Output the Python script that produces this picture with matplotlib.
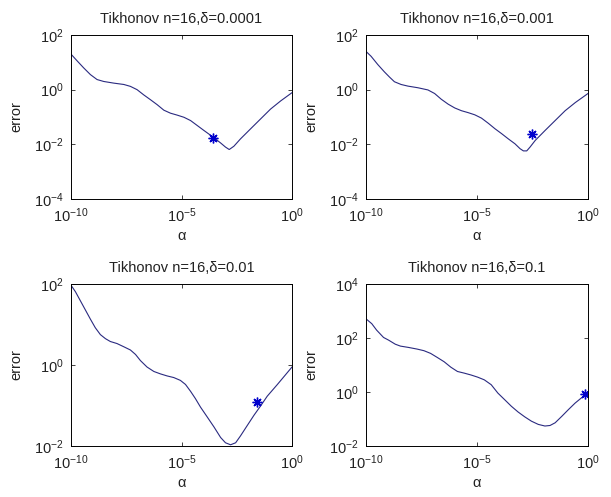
import matplotlib
matplotlib.use("Agg")
import numpy as np
import matplotlib.pyplot as plt
from matplotlib.ticker import FixedLocator, FixedFormatter, NullLocator

plt.rcParams['font.family'] = ['Liberation Sans', 'DejaVu Sans']
plt.rcParams['mathtext.fontset'] = 'custom'
plt.rcParams['mathtext.rm'] = 'Liberation Sans'
plt.rcParams['mathtext.it'] = 'Liberation Sans'

TITLES = [
    "Tikhonov n=16,\u03b4=0.0001",
    "Tikhonov n=16,\u03b4=0.001",
    "Tikhonov n=16,\u03b4=0.01",
    "Tikhonov n=16,\u03b4=0.1",
]

# log10(alpha), log10(error)
logx_1 = [-10, -9.73, -9.43, -9.12, -8.82, -8.52, -8.07, -7.61, -7.31, -7.01, -6.71,
          -6.40, -6.10, -5.80, -5.50, -5.20, -4.89, -4.59, -4.29, -3.99, -3.58,
          -3.23, -3.01, -2.84, -2.63, -2.33, -1.87, -1.42, -0.97, -0.51, 0]
logy_1 = [1.30, 1.06, 0.80, 0.55, 0.37, 0.30, 0.24, 0.19, 0.12, 0.0, -0.19,
          -0.37, -0.55, -0.75, -0.86, -0.93, -1.01, -1.13, -1.31, -1.49, -1.73,
          -1.95, -2.10, -2.19, -2.07, -1.80, -1.43, -1.07, -0.71, -0.41, -0.11]

logx_2 = [-10, -9.77, -9.47, -9.17, -8.94, -8.72, -8.42, -8.11, -7.66, -7.21, -6.91,
          -6.61, -6.30, -6.00, -5.70, -5.40, -5.10, -4.80, -4.49, -4.19, -3.89,
          -3.59, -3.29, -3.06, -2.91, -2.76, -2.61, -2.38, -1.93, -1.48, -1.03,
          -0.57, 0]
logy_2 = [1.40, 1.22, 0.92, 0.65, 0.46, 0.29, 0.19, 0.13, 0.07, -0.01, -0.14,
          -0.35, -0.53, -0.67, -0.77, -0.84, -0.92, -1.04, -1.23, -1.43, -1.61,
          -1.80, -1.98, -2.16, -2.24, -2.24, -2.10, -1.86, -1.49, -1.13, -0.77,
          -0.47, -0.14]

logx_3 = [-10, -9.80, -9.58, -9.35, -9.12, -8.90, -8.67, -8.44, -8.22, -7.92, -7.61,
          -7.31, -7.08, -6.86, -6.56, -6.25, -5.95, -5.65, -5.35, -5.05, -4.82,
          -4.59, -4.37, -4.14, -3.84, -3.53, -3.23, -3.01, -2.78, -2.55, -2.33,
          -2.02, -1.72, -1.42, -1.12, -0.66, 0]
logy_3 = [1.97, 1.81, 1.59, 1.36, 1.13, 0.92, 0.75, 0.65, 0.58, 0.53, 0.45,
          0.37, 0.26, 0.11, -0.05, -0.16, -0.22, -0.27, -0.31, -0.38, -0.48,
          -0.65, -0.83, -1.04, -1.28, -1.53, -1.79, -1.92, -1.97, -1.92, -1.75,
          -1.49, -1.24, -1.01, -0.77, -0.48, -0.05]

logx_4 = [-10, -9.74, -9.52, -9.21, -8.98, -8.68, -8.45, -8.08, -7.70, -7.39, -7.09,
          -6.79, -6.48, -6.18, -5.88, -5.58, -5.27, -4.97, -4.67, -4.36, -4.06,
          -3.76, -3.45, -3.15, -2.85, -2.55, -2.24, -1.94, -1.71, -1.48, -1.18,
          -0.88, -0.58, -0.27, -0.12]
logy_4 = [2.71, 2.53, 2.29, 2.02, 1.92, 1.77, 1.70, 1.65, 1.59, 1.53, 1.43,
          1.28, 1.12, 0.92, 0.76, 0.70, 0.63, 0.55, 0.45, 0.27, -0.04,
          -0.28, -0.53, -0.74, -0.92, -1.08, -1.20, -1.26, -1.24, -1.14, -0.90,
          -0.65, -0.41, -0.20, -0.10]

# chosen alpha (asterisk marker)
star_logx = [-3.58, -2.53, -1.57, -0.12]
star_logy = [-1.77, -1.64, -0.91, -0.08]

curves = [(logx_1, logy_1), (logx_2, logy_2), (logx_3, logy_3), (logx_4, logy_4)]
ylims = [(-4, 2), (-4, 2), (-2, 2), (-2, 4)]

fig = plt.figure(figsize=(6.11, 4.97), dpi=100)
rects = [
    [71 / 611, 1 - 199 / 497, 221 / 611, 164 / 497],
    [366 / 611, 1 - 199 / 497, 222 / 611, 164 / 497],
    [71 / 611, 1 - 446 / 497, 221 / 611, 162 / 497],
    [366 / 611, 1 - 446 / 497, 222 / 611, 162 / 497],
]

for i in range(4):
    ax = fig.add_axes(rects[i])
    lx, ly = curves[i]
    ax.plot(10.0 ** np.array(lx), 10.0 ** np.array(ly), color='#2a2a80', lw=0.8)
    ax.plot(10.0 ** star_logx[i], 10.0 ** star_logy[i], marker=(8, 2, 0), ls='none',
            color='#0000cc', markersize=7, markeredgewidth=1.0)
    ax.set_xscale('log')
    ax.set_yscale('log')
    ax.set_xlim(1e-10, 1)
    lo, hi = ylims[i]
    ax.set_ylim(10.0 ** lo, 10.0 ** hi)

    xt = [-10, -5, 0]
    ax.xaxis.set_major_locator(FixedLocator([10.0 ** e for e in xt]))
    ax.xaxis.set_major_formatter(FixedFormatter([r'$\mathregular{10^{%d}}$' % e for e in xt]))
    yt = list(range(lo, hi + 1, 2))
    ax.yaxis.set_major_locator(FixedLocator([10.0 ** e for e in yt]))
    ax.yaxis.set_major_formatter(FixedFormatter([r'$\mathregular{10^{%d}}$' % e for e in yt]))
    ax.xaxis.set_minor_locator(NullLocator())
    ax.yaxis.set_minor_locator(NullLocator())
    ax.tick_params(direction='in', length=3, width=0.6, top=True, right=True,
                   labelsize=10.5, pad=5, colors='#222222')
    for s in ax.spines.values():
        s.set_linewidth(0.7)

    ax.set_title(TITLES[i], fontsize=10.5, pad=9, color='#222222')
    ax.set_xlabel('\u03b1', fontsize=10.5, labelpad=3, color='#222222')
    ax.set_ylabel('error', fontsize=10.5, labelpad=8, color='#222222')

fig.savefig('out.png', dpi=100)
